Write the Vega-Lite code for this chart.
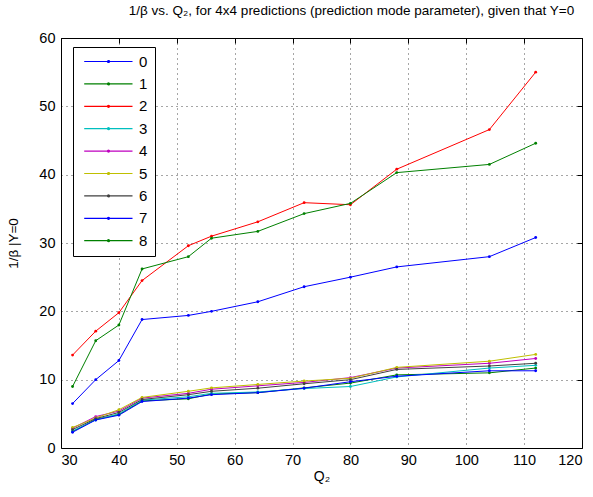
{
  "$schema": "https://vega.github.io/schema/vega-lite/v6.json",
  "width": 521,
  "height": 410,
  "autosize": {"type": "none"},
  "padding": {"left": 61, "top": 38, "right": 11, "bottom": 49},
  "background": "white",
  "config": {
    "font": "Liberation Sans",
    "view": {"stroke": "black", "strokeWidth": 1}
  },
  "title": {
    "text": "1/β vs. Q₂, for 4x4 predictions (prediction mode parameter), given that Y=0",
    "fontSize": 13.5,
    "fontWeight": "normal",
    "font": "Liberation Sans",
    "color": "black",
    "anchor": "middle",
    "dx": 30,
    "offset": 13
  },
  "data": {
    "values": [
      {"q": 32, "m": "0", "v": 6.5}, {"q": 36, "m": "0", "v": 10}, {"q": 40, "m": "0", "v": 12.8}, {"q": 44, "m": "0", "v": 18.8}, {"q": 52, "m": "0", "v": 19.4}, {"q": 56, "m": "0", "v": 20}, {"q": 64, "m": "0", "v": 21.4}, {"q": 72, "m": "0", "v": 23.6}, {"q": 80, "m": "0", "v": 25}, {"q": 88, "m": "0", "v": 26.5}, {"q": 104, "m": "0", "v": 28}, {"q": 112, "m": "0", "v": 30.8},
      {"q": 32, "m": "1", "v": 2.4}, {"q": 36, "m": "1", "v": 4.2}, {"q": 40, "m": "1", "v": 4.9}, {"q": 44, "m": "1", "v": 6.9}, {"q": 52, "m": "1", "v": 7.2}, {"q": 56, "m": "1", "v": 7.9}, {"q": 64, "m": "1", "v": 8.1}, {"q": 72, "m": "1", "v": 8.8}, {"q": 80, "m": "1", "v": 9.5}, {"q": 88, "m": "1", "v": 10.7}, {"q": 104, "m": "1", "v": 11.0}, {"q": 112, "m": "1", "v": 11.7},
      {"q": 32, "m": "2", "v": 13.6}, {"q": 36, "m": "2", "v": 17.1}, {"q": 40, "m": "2", "v": 19.8}, {"q": 44, "m": "2", "v": 24.5}, {"q": 52, "m": "2", "v": 29.6}, {"q": 56, "m": "2", "v": 31}, {"q": 64, "m": "2", "v": 33.1}, {"q": 72, "m": "2", "v": 35.9}, {"q": 80, "m": "2", "v": 35.6}, {"q": 88, "m": "2", "v": 40.8}, {"q": 104, "m": "2", "v": 46.6}, {"q": 112, "m": "2", "v": 55},
      {"q": 32, "m": "3", "v": 2.5}, {"q": 36, "m": "3", "v": 4.1}, {"q": 40, "m": "3", "v": 5.0}, {"q": 44, "m": "3", "v": 7.0}, {"q": 52, "m": "3", "v": 7.5}, {"q": 56, "m": "3", "v": 8.0}, {"q": 64, "m": "3", "v": 8.2}, {"q": 72, "m": "3", "v": 8.7}, {"q": 80, "m": "3", "v": 9.0}, {"q": 88, "m": "3", "v": 10.4}, {"q": 104, "m": "3", "v": 11.7}, {"q": 112, "m": "3", "v": 12.1},
      {"q": 32, "m": "4", "v": 2.9}, {"q": 36, "m": "4", "v": 4.6}, {"q": 40, "m": "4", "v": 5.4}, {"q": 44, "m": "4", "v": 7.3}, {"q": 52, "m": "4", "v": 8.0}, {"q": 56, "m": "4", "v": 8.6}, {"q": 64, "m": "4", "v": 9.1}, {"q": 72, "m": "4", "v": 9.6}, {"q": 80, "m": "4", "v": 10.3}, {"q": 88, "m": "4", "v": 11.7}, {"q": 104, "m": "4", "v": 12.4}, {"q": 112, "m": "4", "v": 13.1},
      {"q": 32, "m": "5", "v": 3.0}, {"q": 36, "m": "5", "v": 4.4}, {"q": 40, "m": "5", "v": 5.6}, {"q": 44, "m": "5", "v": 7.4}, {"q": 52, "m": "5", "v": 8.3}, {"q": 56, "m": "5", "v": 8.8}, {"q": 64, "m": "5", "v": 9.3}, {"q": 72, "m": "5", "v": 9.8}, {"q": 80, "m": "5", "v": 10.2}, {"q": 88, "m": "5", "v": 11.8}, {"q": 104, "m": "5", "v": 12.7}, {"q": 112, "m": "5", "v": 13.7},
      {"q": 32, "m": "6", "v": 2.7}, {"q": 36, "m": "6", "v": 4.3}, {"q": 40, "m": "6", "v": 5.2}, {"q": 44, "m": "6", "v": 7.1}, {"q": 52, "m": "6", "v": 7.8}, {"q": 56, "m": "6", "v": 8.3}, {"q": 64, "m": "6", "v": 8.75}, {"q": 72, "m": "6", "v": 9.4}, {"q": 80, "m": "6", "v": 10.0}, {"q": 88, "m": "6", "v": 11.5}, {"q": 104, "m": "6", "v": 12.0}, {"q": 112, "m": "6", "v": 12.4},
      {"q": 32, "m": "7", "v": 2.3}, {"q": 36, "m": "7", "v": 4.1}, {"q": 40, "m": "7", "v": 4.8}, {"q": 44, "m": "7", "v": 6.8}, {"q": 52, "m": "7", "v": 7.3}, {"q": 56, "m": "7", "v": 7.8}, {"q": 64, "m": "7", "v": 8.1}, {"q": 72, "m": "7", "v": 8.75}, {"q": 80, "m": "7", "v": 9.7}, {"q": 88, "m": "7", "v": 10.5}, {"q": 104, "m": "7", "v": 11.3}, {"q": 112, "m": "7", "v": 11.3},
      {"q": 32, "m": "8", "v": 9}, {"q": 36, "m": "8", "v": 15.7}, {"q": 40, "m": "8", "v": 18}, {"q": 44, "m": "8", "v": 26.2}, {"q": 52, "m": "8", "v": 28}, {"q": 56, "m": "8", "v": 30.7}, {"q": 64, "m": "8", "v": 31.7}, {"q": 72, "m": "8", "v": 34.3}, {"q": 80, "m": "8", "v": 35.8}, {"q": 88, "m": "8", "v": 40.3}, {"q": 104, "m": "8", "v": 41.5}, {"q": 112, "m": "8", "v": 44.6}
    ]
  },
  "encoding": {
    "color": {
      "field": "m", "type": "nominal",
      "scale": {
        "domain": ["0", "1", "2", "3", "4", "5", "6", "7", "8"],
        "range": ["#0000ff", "#008000", "#ff0000", "#00bfbf", "#bf00bf", "#bfbf00", "#404040", "#0000ff", "#008000"]
      },
      "legend": {
        "title": null,
        "orient": "none",
        "legendX": 12,
        "legendY": 9,
        "strokeColor": "black",
        "fillColor": "white",
        "padding": 7,
        "symbolType": "M-0.66,0H9M4,0A0.2,0.2 0 1,0 4.4,0A0.2,0.2 0 1,0 4,0",
        "symbolSize": 100,
        "symbolStrokeWidth": 1.2,
        "symbolFillColor": "transparent",
        "labelFontSize": 15,
        "labelColor": "black",
        "labelOffset": 44,
        "rowPadding": 6.4,
        "symbolOpacity": 1
      }
    }
  },
  "layer": [
    {
      "mark": {"type": "line", "strokeWidth": 1},
      "encoding": {
        "x": {
          "field": "q", "type": "quantitative",
          "scale": {"domain": [30, 120], "nice": false, "zero": false},
          "axis": {
            "title": "Q₂", "titleFontSize": 14, "titleFontWeight": "normal", "titleColor": "black", "titlePadding": 3,
            "values": [30, 40, 50, 60, 70, 80, 90, 100, 110, 120],
            "labelFontSize": 14.5, "labelColor": "black", "labelPadding": 5,
            "domain": false, "ticks": false,
            "grid": true, "gridColor": "#000000", "gridDash": [1, 4], "gridOpacity": 0.7
          }
        },
        "y": {
          "field": "v", "type": "quantitative",
          "scale": {"domain": [0, 60], "nice": false},
          "axis": {
            "title": "1/β |Y=0", "titleFontSize": 13.5, "titleFontWeight": "normal", "titleColor": "black", "titlePadding": 18,
            "values": [0, 10, 20, 30, 40, 50, 60],
            "labelFontSize": 14.5, "labelColor": "black", "labelPadding": 6,
            "domain": false, "ticks": false,
            "grid": true, "gridColor": "#000000", "gridDash": [1, 4], "gridOpacity": 0.7
          }
        }
      }
    },
    {
      "mark": {"type": "point", "filled": true, "size": 8, "opacity": 1},
      "encoding": {
        "x": {
          "field": "q", "type": "quantitative",
          "axis": {
            "orient": "top", "title": null, "labels": false, "grid": false, "domain": false,
            "values": [30, 40, 50, 60, 70, 80, 90, 100, 110, 120],
            "ticks": true, "tickSize": -5, "tickColor": "black"
          }
        },
        "y": {
          "field": "v", "type": "quantitative",
          "axis": {
            "orient": "right", "title": null, "labels": false, "grid": false, "domain": false,
            "values": [0, 10, 20, 30, 40, 50, 60],
            "ticks": true, "tickSize": -5, "tickColor": "black"
          }
        }
      }
    }
  ],
  "resolve": {"axis": {"x": "independent", "y": "independent"}}
}
